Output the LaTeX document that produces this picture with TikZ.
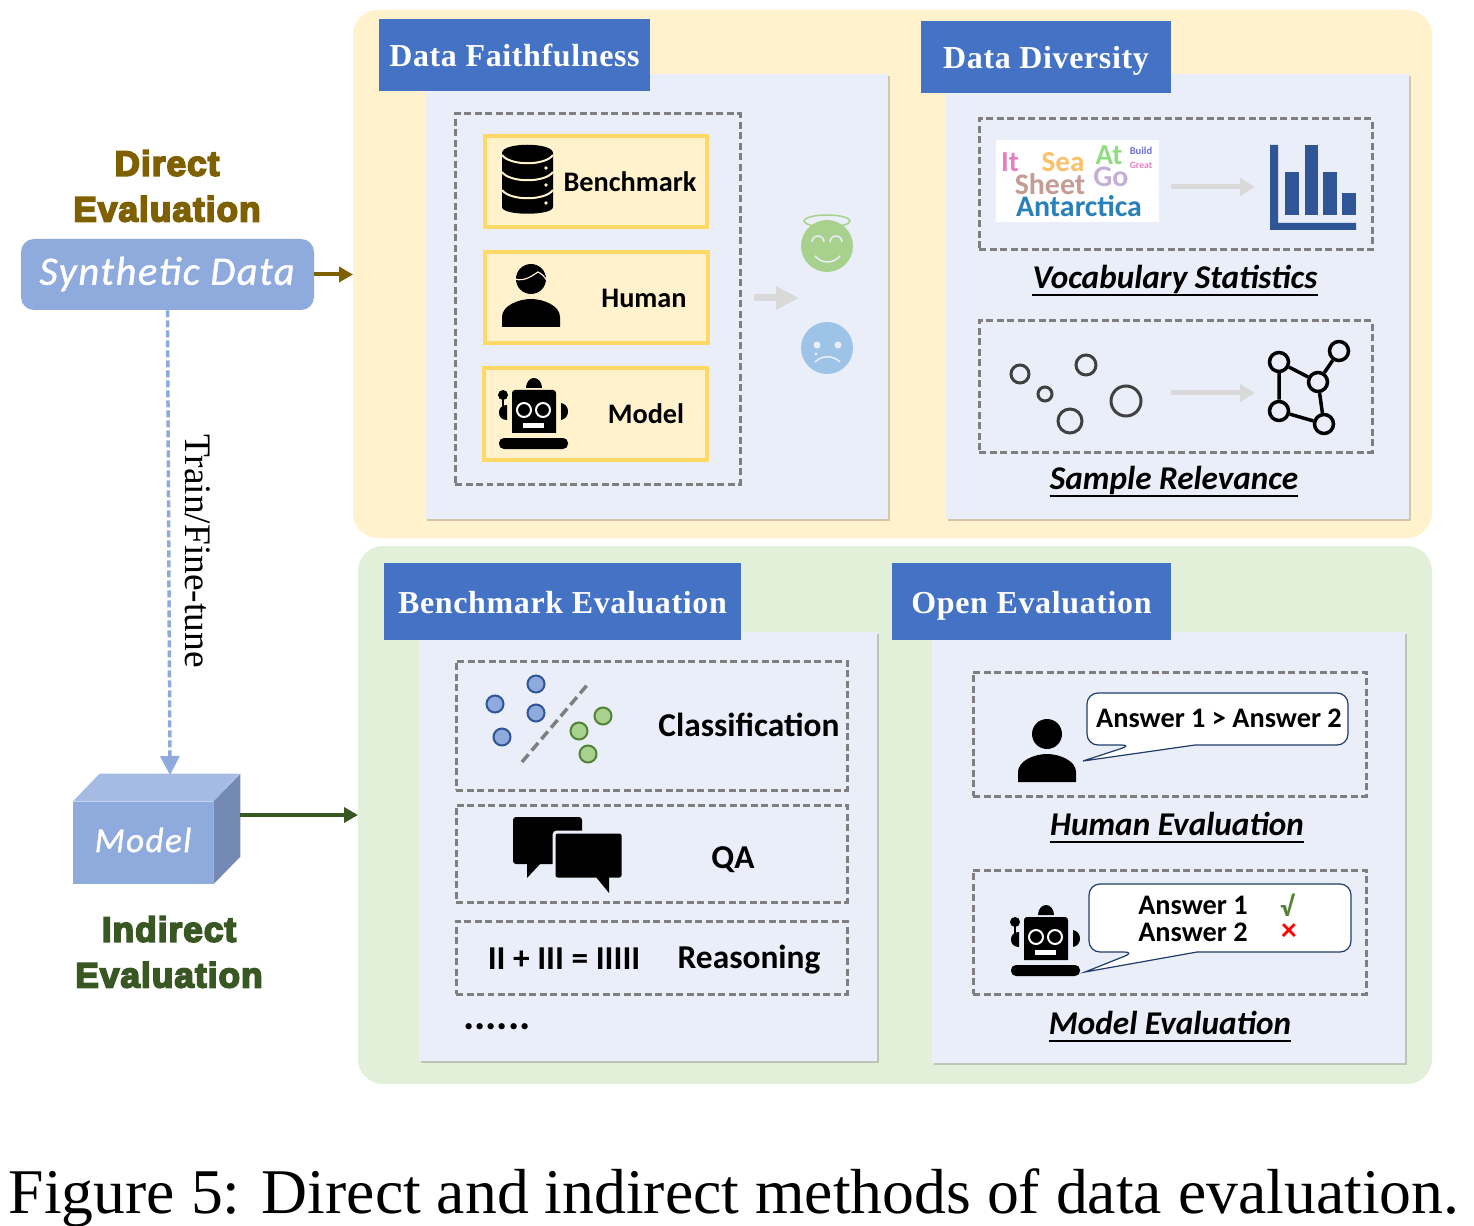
\documentclass[tikz,border=0pt]{standalone}
\usepackage{fontspec}
\setmainfont{Liberation Serif}
\newfontfamily\calibrifont{Carlito}
\newfontfamily\heavyfont[FakeBold=5,LetterSpace=3]{Liberation Sans Bold}
\newfontfamily\comicfont[LetterSpace=4,FakeBold=1]{Carlito Italic}
\usepackage{xcolor}
\definecolor{yellowpanel}{HTML}{FFF2CC}
\definecolor{greenpanel}{HTML}{E2F0D9}
\definecolor{bluepanel}{HTML}{E9EEF9}
\definecolor{headblue}{HTML}{4472C4}
\definecolor{softblue}{HTML}{8FAADC}
\definecolor{softgold}{HTML}{FFD966}
\definecolor{directcol}{HTML}{7F6000}
\definecolor{indirectcol}{HTML}{385723}
\definecolor{dashgray}{HTML}{7F7F7F}
\definecolor{softgray}{HTML}{D9D9D9}
\definecolor{barblue}{HTML}{2F5597}
\definecolor{softgreen}{HTML}{A9D18E}
\definecolor{darkgreen}{HTML}{548235}
\definecolor{sadblue}{HTML}{9DC3E6}
\definecolor{cubetop}{HTML}{A6BBE3}
\definecolor{cubeside}{HTML}{7489B3}
\definecolor{wordit}{HTML}{E67FC0}
\definecolor{wordsea}{HTML}{FDC069}
\definecolor{wordat}{HTML}{90DC80}
\definecolor{wordbuild}{HTML}{6E6EE6}
\definecolor{wordgreat}{HTML}{E67FC0}
\definecolor{wordsheet}{HTML}{C49C94}
\definecolor{wordgo}{HTML}{C5B0D5}
\definecolor{wordant}{HTML}{2A80B9}
\usetikzlibrary{arrows.meta, shadows}
\def\px{0.02cm}

\tikzset{
  human/.pic={
    \fill (0,0) circle[radius=15];
    \fill (-29,48) -- (-29,38) .. controls (-29,27) and (-13,20) .. (0,20)
      .. controls (13,20) and (29,27) .. (29,38) -- (29,48) -- cycle;
  },
  robot/.pic={
    \fill (-22,43) [rounded corners=3*\px] -- (-22,0) -- (22,0) [sharp corners] -- (22,43) -- cycle;
    \fill (-8,-2) .. controls (-8,-8) and (-4,-12) .. (0,-12) .. controls (4,-12) and (8,-8) .. (8,-2) -- cycle;
    \foreach \ex in {-10,9} \draw[white, fill=black, line width=2*\px] (\ex,20) circle[radius=7];
    \fill[white] (-11,33) rectangle (10,38);
    \fill (-31,5) circle[radius=5];
    \draw[line width=2*\px] (-31,5) -- (-31,16);
    \fill (-27,15) -- (-27,30) .. controls (-33,30) and (-35,26) .. (-35,22.5) .. controls (-35,19) and (-33,15) .. (-27,15);
    \fill (27,13) -- (27,30) .. controls (32,29) and (34,25) .. (34,21.5) .. controls (34,18) and (32,14) .. (27,13);
    \fill[rounded corners=5*\px] (-35,48) rectangle (34,59);
  }
}

\begin{document}
\begin{tikzpicture}[
  x=0.02cm, y=-0.02cm,
  panelbox/.style={rectangle, rounded corners=0.5cm, draw=none, outer sep=0pt},
  innerbox/.style={rectangle, fill=bluepanel, draw=none, drop shadow={shadow xshift=0.04cm, shadow yshift=-0.04cm, opacity=0.3, fill=black!60}},
  headbox/.style={rectangle, fill=headblue, text=white, text height=0.47cm, text depth=0pt, font=\bfseries\fontsize{18.2}{20}\selectfont\addfontfeature{LetterSpace=2}},
  dashbox/.style={rectangle, draw=dashgray, dash pattern=on 0.14cm off 0.07cm, line width=3*\px},
  goldbox/.style={rectangle, draw=softgold, fill=yellowpanel, line width=4*\px},
  boldlabel/.style={font=\calibrifont\bfseries\fontsize{16.1}{19}\selectfont, inner sep=0pt},
  biglabel/.style={font=\calibrifont\bfseries\fontsize{19}{22}\selectfont, inner sep=0pt},
  itlabel/.style={font=\calibrifont\bfseries\itshape\fontsize{18.9}{22}\selectfont, inner sep=0pt, text depth=0.12cm},
  sidelabel/.style={font=\heavyfont\fontsize{20}{26}\selectfont, align=center, inner sep=0pt},
  softarrow/.style={draw=softgray, line width=5*\px, -{Triangle[length=0.3cm, width=0.34cm]}},
  ring/.style={circle, draw=black!75, line width=3*\px, inner sep=0pt},
  graphdot/.style={circle, draw=black, line width=3.5*\px, inner sep=0pt, minimum size=19*\px},
  dotblue/.style={circle, draw=barblue, fill=softblue, line width=2*\px, inner sep=0pt, minimum size=17*\px},
  dotgreen/.style={circle, draw=darkgreen, fill=softgreen, line width=2*\px, inner sep=0pt, minimum size=17*\px},
  speech/.style={draw=barblue!70!black, fill=white, line width=1.2*\px}
]
  \useasboundingbox (0,0) rectangle (1474,1226);

  \node[panelbox, fill=yellowpanel, minimum width=1079*\px, minimum height=528*\px] (directpanel) at (892.5,274) {};
  \node[panelbox, fill=greenpanel, minimum width=1074*\px, minimum height=538*\px] (indirectpanel) at (895,815) {};

  \foreach \nm/\xa/\ya/\xb/\yb in {
    faith/425/74/888/519, diverse/946/74/1409/519,
    bench/419/632/877/1061, open/932/632/1405/1063
  }{
    \node[innerbox, minimum width={(\xb-\xa)*\px}, minimum height={(\yb-\ya)*\px}] (\nm) at ({(\xa+\xb)/2},{(\ya+\yb)/2}) {};
  }

  \foreach \nm/\xa/\ya/\xb/\yb/\txt in {
    faithhead/379/19/650/91/{Data Faithfulness},
    diversehead/921/21/1171/93/{Data Diversity},
    benchhead/384/563/741/640/{Benchmark Evaluation},
    openhead/892/563/1171/640/{Open Evaluation}
  }{
    \node[headbox, minimum width={(\xb-\xa)*\px}, minimum height={(\yb-\ya)*\px}] (\nm) at ({(\xa+\xb)/2},{(\ya+\yb)/2}) {\txt};
  }

  \foreach \nm/\xa/\ya/\xb/\yb in {
    faithdash/454/113/741/485,
    vocabdash/978/118/1373/251, sampledash/978/320/1373/453,
    classdash/455/660/848/791, qadash/455/804/848/903, reasondash/455/920/848/995,
    humandash/972/671/1367/797, modeldash/972/869/1367/995
  }{
    \node[dashbox, minimum width={(\xb-\xa-2)*\px}, minimum height={(\yb-\ya-2)*\px}] (\nm) at ({(\xa+\xb)/2},{(\ya+\yb)/2}) {};
  }

  \foreach \nm/\xa/\ya/\xb/\yb in {
    benchgold/483/135/708/229, humangold/483/251/709/345, modelgold/482/367/708/461
  }{
    \node[goldbox, minimum width={(\xb-\xa-3)*\px}, minimum height={(\yb-\ya-3)*\px}] (\nm) at ({(\xa+\xb)/2},{(\ya+\yb)/2}) {};
  }

  \foreach \nm/\x/\y/\txt in {
    benchtxt/630/182/Benchmark, humantxt/644/298/Human, modeltxt/646/414/Model
  }{
    \node[boldlabel] (\nm) at (\x,\y) {\txt};
  }
  \foreach \nm/\x/\y/\txt in {
    classtxt/749/725/Classification, qatxt/733/860/QA, reasontxt/749/960/Reasoning,
    sumtxt/564/959/{II + III = IIIII}
  }{
    \node[biglabel] (\nm) at (\x,\y) {\txt};
  }
  \node[font=\calibrifont\bfseries\fontsize{24}{24}\selectfont, inner sep=0pt] (moredots) at (497,1027) {......};

  % database icon
  \fill (502,153) .. controls (502,142) and (553,142) .. (553,153) -- (553,207)
    .. controls (553,216) and (502,216) .. (502,207) -- cycle;
  \foreach \dy in {155,172,190}{
    \draw[yellowpanel, line width=2*\px] (502,\dy) .. controls (510,{\dy+11}) and (545,{\dy+11}) .. (553,\dy);
    \fill[yellowpanel] (546,{\dy+13}) circle[radius=1.8];
  }
  \pic at (531,279) {human};
  \draw[yellowpanel, line width=1.2*\px] (515,279) .. controls (525,282) and (533,275) .. (538,272) .. controls (542,274) and (545,277) .. (547,281);
  \pic at (534,390) {robot};
  \pic at (1047,734) {human};
  \pic at (1046,917) {robot};

  % faces
  \draw[softgreen, line width=1.5*\px] (827,221) ellipse[x radius=23, y radius=6];
  \node[circle, fill=softgreen, minimum size=52*\px, inner sep=0pt] (happy) at (827,246) {};
  \draw[bluepanel, line width=1.5*\px] (812,242) arc[start angle=180, end angle=360, radius=6] (830,242) arc[start angle=180, end angle=360, radius=6];
  \draw[bluepanel, line width=1.5*\px] (815,256) .. controls (822,264) and (833,264) .. (840,256);
  \node[circle, fill=sadblue, minimum size=52*\px, inner sep=0pt] (sad) at (827,348) {};
  \fill[bluepanel] (817,345) circle[radius=3.5] (838,345) circle[radius=3.5];
  \fill[bluepanel] (816,354) circle[radius=1.6];
  \draw[bluepanel, line width=1.5*\px] (815,362) .. controls (822,355) and (833,355) .. (840,362);
  \coordinate (verdictin) at (754,298);
  \coordinate (verdictout) at (799,298);
  \draw[softarrow, line width=7*\px, -{Triangle[length=0.46cm, width=0.44cm]}] (verdictin) -- (verdictout);

  % word cloud
  \node[fill=white, minimum width=163*\px, minimum height=82*\px] (cloud) at (1077.5,181) {};
  \foreach \nm/\x/\y/\sz/\col/\txt in {
    It/1010/162/16.5/wordit/It, Sea/1063/162/16.5/wordsea/Sea, At/1109/155/16.5/wordat/At,
    Build/1141/151/6/wordbuild/Build, Great/1141/165/5.5/wordgreat/Great, Sheet/1050/184/17/wordsheet/Sheet,
    Go/1111/177/17/wordgo/Go, Antarctica/1079/206/17/wordant/Antarctica
  }{
    \node[font=\calibrifont\bfseries\fontsize{\sz}{\sz}\selectfont, text=\col, inner sep=0pt] (word\nm) at (\x,\y) {\txt};
  }
  \foreach \ya in {187,393}{
    \coordinate (from\ya) at (1171,\ya);
    \coordinate (to\ya) at (1255,\ya);
    \draw[softarrow] (from\ya) -- (to\ya);
  }

  % bars
  \fill[barblue] (1270,145) rectangle (1278,230) (1278,223) rectangle (1356,230);
  \foreach \xa/\xb/\yt in {1285/1299/172, 1305/1318/145, 1323/1337/172, 1342/1356/193}{
    \fill[barblue] (\xa,\yt) rectangle (\xb,215);
  }

  % samples
  \foreach \nm/\x/\y/\r in {sa/1020/374/9, sb/1045/394/7, sc/1086/365/10, sd/1070/421/12, se/1126/401/15}{
    \node[ring, minimum size=2*\r*\px] (\nm) at (\x,\y) {};
  }
  \foreach \nm/\x/\y in {ga/1279/362, gb/1339/351, gc/1318/382, gd/1279/411, ge/1324/424}{
    \node[graphdot] (\nm) at (\x,\y) {};
  }
  \draw[line width=3.5*\px] (ga) -- (gc) (gb) -- (gc) (gc) -- (ge) (ga) -- (gd) (gd) -- (ge);

  % classification icon
  \foreach \nm/\x/\y in {ca/495/704, cb/536/684, cc/536/713, cd/502/737}{
    \node[dotblue] (\nm) at (\x,\y) {};
  }
  \foreach \nm/\x/\y in {ce/603/716, cf/579/731, cg/588/754}{
    \node[dotgreen] (\nm) at (\x,\y) {};
  }
  \coordinate (splita) at (522,762);
  \coordinate (splitb) at (588,684);
  \draw[dashgray, line width=3.5*\px, dash pattern=on 0.2cm off 0.1cm] (splita) -- (splitb);

  % chat icon
  \fill[rounded corners=3*\px] (513,817) rectangle (582,864);
  \fill (527,860) -- (527,878) -- (542,862) -- cycle;
  \fill[draw=bluepanel, line width=3*\px, rounded corners=3*\px] (554,832) rectangle (623,879);
  \fill (596,877) -- (609,893) -- (609,877) -- cycle;

  % speech bubbles
  \draw[speech] (1132,745) [sharp corners] -- (1083,761) -- (1195,745) [rounded corners=0.22cm] -- (1348,745) -- (1348,693) -- (1087,693) -- (1087,745) -- cycle;
  \draw[speech] (1135,952) [sharp corners] -- (1085,972) -- (1197,952) [rounded corners=0.22cm] -- (1351,952) -- (1351,884) -- (1089,884) -- (1089,952) -- cycle;
  \foreach \nm/\x/\y/\txt in {
    ansa/1219/718/{Answer 1 > Answer 2}, ansb/1193/905/{Answer 1}, ansc/1193/932/{Answer 2}
  }{
    \node[boldlabel] (\nm) at (\x,\y) {\txt};
  }
  \node[font=\calibrifont\bfseries\fontsize{16}{19}\selectfont, text=darkgreen, inner sep=0pt] (okmark) at (1287,905) {√};
  \node[font=\calibrifont\bfseries\fontsize{18}{19}\selectfont, text=red, inner sep=0pt] (nomark) at (1289,932) {×};

  % underlined captions
  \foreach \nm/\x/\y/\txt in {
    vocabcap/1175/280/{Vocabulary Statistics}, samplecap/1174/481/{Sample Relevance},
    humancap/1177/827/{Human Evaluation}, modelcap/1170/1026/{Model Evaluation}
  }{
    \node[itlabel] (\nm) at (\x,\y) {\txt};
    \draw[line width=2*\px] (\nm.south west) -- (\nm.south east);
  }

  % left column
  \node[sidelabel, text=directcol] (directlabel) at (167,186) {Direct\\Evaluation};
  \node[rectangle, rounded corners=0.26cm, fill=softblue, minimum width=293*\px, minimum height=71*\px] (synth) at (167.5,274.5) {};
  \node[font=\comicfont\fontsize{23}{25}\selectfont, text=white, inner sep=0pt] (synthtxt) at (167,274) {Synthetic Data};
  \node[rectangle, fill=softblue, minimum width=140*\px, minimum height=82*\px] (model) at (143,843) {};
  \fill[cubetop] (model.north west) -- ++(27,-28) -- ++(140,0) -- (model.north east) -- cycle;
  \fill[cubeside] (model.north east) -- ++(27,-28) -- ++(0,83) -- (model.south east) -- cycle;
  \node[font=\comicfont\fontsize{20}{25}\selectfont, text=white, inner sep=0pt] (modeltitle) at (143,840) {Model};
  \node[sidelabel, text=indirectcol] (indirectlabel) at (169,952) {Indirect\\Evaluation};

  \coordinate (modeltop) at (170,775);
  \coordinate (modelout) at (240,815);
  \draw[directcol, line width=4*\px, -{Triangle[length=0.28cm, width=0.3cm]}] (synth.east) -- (synth.east -| directpanel.west);
  \draw[indirectcol, line width=4*\px, -{Triangle[length=0.28cm, width=0.3cm]}] (modelout) -- (modelout -| indirectpanel.west);
  \draw[softblue, line width=3.5*\px, dash pattern=on 0.14cm off 0.06cm, -{Triangle[length=0.38cm, width=0.38cm]}] (synth.south) -- (modeltop);
  \node[rotate=-90, font=\fontsize{21.3}{24}\selectfont, inner sep=0pt] (trainlabel) at (198,551) {Train/Fine-tune};

  \node[font=\fontsize{36.25}{40}\selectfont, inner sep=0pt] (caption) at (734,1198) {Figure 5: Direct and indirect methods of data evaluation.};
\end{tikzpicture}
\end{document}
